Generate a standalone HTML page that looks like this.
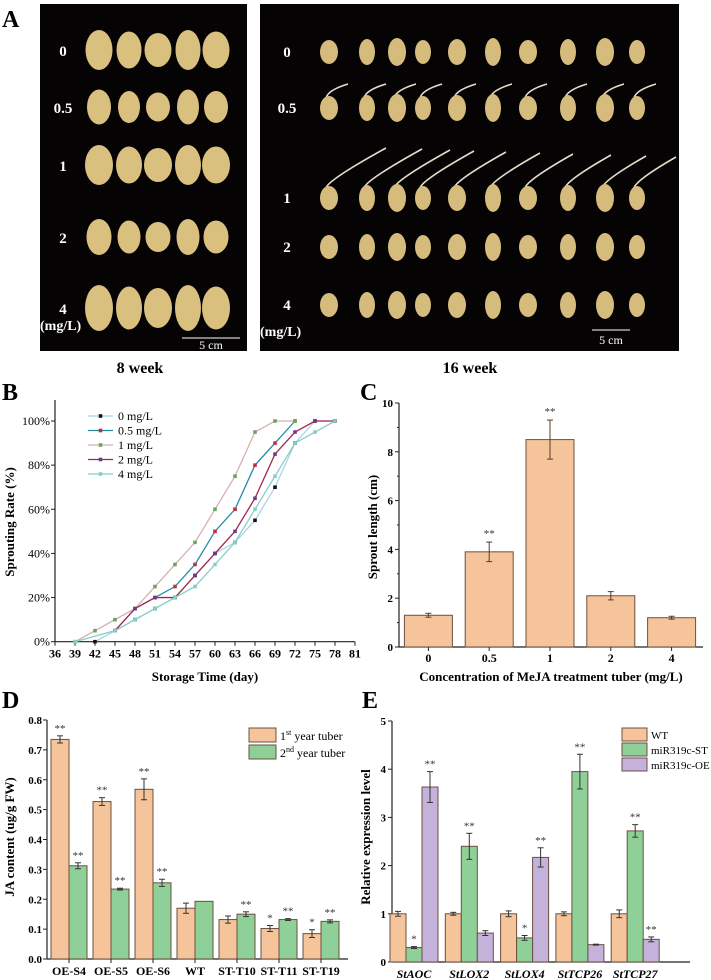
<!DOCTYPE html>
<html><head><meta charset="utf-8"><style>
html,body{margin:0;padding:0;background:#fff;}
svg{display:block;font-family:"Liberation Serif",serif;}
</style></head><body>
<svg id="fig" width="711" height="980" viewBox="0 0 711 980" xmlns="http://www.w3.org/2000/svg">
<g id="pa">
<text x="2" y="27" font-size="24" font-weight="bold">A</text>
<rect x="40" y="4" width="207" height="347" fill="#050303"/>
<rect x="260" y="4" width="419" height="347" fill="#050303"/>
<text x="140" y="373" font-size="16" font-weight="bold" text-anchor="middle">8 week</text>
<text x="470" y="373" font-size="16" font-weight="bold" text-anchor="middle">16 week</text>
</g>
<g id="pb"></g>
<g id="pc"></g>
<g id="pd"></g>
<g id="pe"></g>
</svg>
<script>
// ---------- Data ----------
const bDays=[36,39,42,45,48,51,54,57,60,63,66,69,72,75,78,81];
const bSeriesNames=["0 mg/L","0.5 mg/L","1 mg/L","2 mg/L","4 mg/L"];
const b0x=[42,45,48,51,54,57,60,63,66,69,72,75,78];
const b0y=[0,5,10,15,20,30,40,45,55,70,90,100,100];
const b05x=[45,48,51,54,57,60,63,66,69,72];
const b05y=[5,15,20,25,35,50,60,80,90,100];
const b1x=[39,42,45,48,51,54,57,60,63,66,69,72];
const b1y=[0,5,10,15,25,35,45,60,75,95,100,100];
const b2x=[45,48,51,54,57,60,63,66,69,72,75,78];
const b2y=[5,15,20,20,30,40,50,65,85,95,100,100];
const b4x=[39,45,48,51,54,57,60,63,66,69,72,75,78];
const b4y=[0,5,10,15,20,25,35,45,60,75,90,95,100];
const bYTicks=[0,20,40,60,80,100];

const cCats=["0","0.5","1","2","4"];
const cVals=[1.3,3.9,8.5,2.1,1.2];
const cErr=[0.08,0.4,0.8,0.17,0.06];
const cSig=["","**","**","",""];
const cYTicks=[0,2,4,6,8,10];

const dCats=["OE-S4","OE-S5","OE-S6","WT","ST-T10","ST-T11","ST-T19"];
const d1Vals=[0.735,0.527,0.568,0.17,0.132,0.102,0.085];
const d1Err=[0.012,0.013,0.035,0.017,0.012,0.01,0.013];
const d1Sig=["**","**","**","","","*","*"];
const d2Vals=[0.312,0.234,0.255,0.193,0.15,0.132,0.126];
const d2Err=[0.01,0.003,0.012,0,0.008,0.003,0.005];
const d2Sig=["**","**","**","","**","**","**"];
const dYTicks=[0,0.1,0.2,0.3,0.4,0.5,0.6,0.7,0.8];

const eCats=["StAOC","StLOX2","StLOX4","StTCP26","StTCP27"];
const eWT=[1,1,1,1,1];
const eWTErr=[0.05,0.03,0.06,0.04,0.08];
const eST=[0.3,2.4,0.5,3.95,2.72];
const eSTErr=[0.02,0.27,0.05,0.36,0.13];
const eSTSig=["*","**","*","**","**"];
const eOE=[3.63,0.6,2.17,0.36,0.47];
const eOEErr=[0.32,0.05,0.2,0.01,0.05];
const eOESig=["**","","**","","**"];
const eYTicks=[0,1,2,3,4,5];

const NS="http://www.w3.org/2000/svg";
function mk(parent,tag,attrs,text){const e=document.createElementNS(NS,tag);for(const k in attrs)e.setAttribute(k,attrs[k]);if(text!==undefined)e.textContent=text;parent.appendChild(e);return e;}
const OR="#f6c49a",GR="#8fd099",PU="#c4b2da",ST="#6b5040";

// ---------- Panel A potatoes ----------
(function(){
const g=document.getElementById('pa');
const lRows=[50,107,165,237,308],lLab=["0","0.5","1","2","4"],lX=[99,129,158,188,216];
const lSz=[[27,40],[24,35],[28,40],[25,36],[28,46]];
lRows.forEach((y,i)=>{
 const t=mk(g,'text',{x:63,y:y+6,'font-size':15,'font-weight':'bold',fill:'#fff','text-anchor':'middle'},lLab[i]);
 
 
 lX.forEach((x,j)=>{const w=lSz[i][0]-(j%2)*2,h=lSz[i][1]-(j%3)*3;
  const p=mk(g,'ellipse',{cx:x,cy:y,rx:w/2,ry:h/2,fill:'#d9c07e'});
  
  });
});
const rRows=[52,108,198,247,305],rX=[329,367,397,423,457,493,528,568,605,637];
rRows.forEach((y,i)=>{
 const t=mk(g,'text',{x:287,y:y+5,'font-size':15,'font-weight':'bold',fill:'#fff','text-anchor':'middle'},lLab[i]);
 
 
 rX.forEach((x,j)=>{
  if(i===1) mk(g,'path',{d:`M${x-3} ${y-10} q2 -8 ${22} -14`,stroke:'#e6dccb','stroke-width':1.6,fill:'none'});
  if(i===2) mk(g,'path',{d:`M${x-3} ${y-10} q2 -8 ${60-j*2} -${40-j}`,stroke:'#e6dccb','stroke-width':1.6,fill:'none'});
  const p=mk(g,'ellipse',{cx:x,cy:y,rx:9-(j%2),ry:12+(j%3),fill:'#d5bb7c'});
  
  
 });
});
[[40,330,'start'],[260,336,'start']].forEach(a=>{const t=mk(g,'text',{x:a[0],y:a[1],'font-size':14,'font-weight':'bold',fill:'#fff'},'(mg/L)');
 
 });
mk(g,'line',{x1:182,x2:240,y1:338,y2:338,stroke:'#fff','stroke-width':1});
mk(g,'text',{x:211,y:349,'font-size':12,fill:'#fff','text-anchor':'middle'},'5 cm');
mk(g,'line',{x1:592,x2:630,y1:330,y2:330,stroke:'#fff','stroke-width':1});
mk(g,'text',{x:611,y:344,'font-size':12,fill:'#fff','text-anchor':'middle'},'5 cm');
})();

// ---------- Panel B ----------
(function(){
const g=document.getElementById('pb');
const X0=55,X1=355,Y0=641.7,Y100=421;
const sx=d=>X0+(d-36)/(81-36)*(X1-X0), sy=v=>Y0-(v/100)*(Y0-Y100);
const L=mk(g,'text',{x:2,y:400,'font-size':24,'font-weight':'bold'},'B');


mk(g,'line',{x1:X0,y1:400,x2:X0,y2:Y0,stroke:'#222','stroke-width':1.2});
mk(g,'line',{x1:X0,y1:Y0,x2:X1,y2:Y0,stroke:'#222','stroke-width':1.2});
bYTicks.forEach(v=>{mk(g,'line',{x1:X0-4,x2:X0,y1:sy(v),y2:sy(v),stroke:'#222'});
 const t=mk(g,'text',{x:X0-5,y:sy(v)+4,'font-size':12,'text-anchor':'end'},v+'%');
 
 });
bDays.forEach(d=>{mk(g,'line',{x1:sx(d),x2:sx(d),y1:Y0,y2:Y0+4,stroke:'#222'});
 const t=mk(g,'text',{x:sx(d),y:Y0+16,'font-size':12,'font-weight':'bold','text-anchor':'middle'},d);
 
 });
const xt=mk(g,'text',{x:205,y:681,'font-size':13,'font-weight':'bold','text-anchor':'middle'},'Storage Time (day)');


const yt=mk(g,'text',{x:0,y:0,'font-size':13,'font-weight':'bold','text-anchor':'middle',transform:'translate(14,522) rotate(-90)'},'Sprouting Rate (%)');


const series=[[b0x,b0y,'#a8d4e6','#111','s'],[b05x,b05y,'#2a8aa6','#c0303a','c'],[b1x,b1y,'#d6b0b0','#6aa65a','t'],[b2x,b2y,'#a0284e','#6b3a8a','v'],[b4x,b4y,'#86cfc6','#86cfc6','d']];
series.forEach((s,i)=>{
 const pts=s[0].map((d,k)=>sx(d)+','+sy(s[1][k])).join(' ');
 const pl=mk(g,'polyline',{points:pts,fill:'none',stroke:s[2],'stroke-width':1.3});
 
 
 s[0].forEach((d,k)=>{const m=mk(g,'rect',{x:sx(d)-1.8,y:sy(s[1][k])-1.8,width:3.6,height:3.6,fill:s[3]});
  
  });
 const ly=416+i*14.5;
 mk(g,'line',{x1:88,x2:113,y1:ly,y2:ly,stroke:s[2],'stroke-width':1.3});
 mk(g,'rect',{x:98.7,y:ly-1.8,width:3.6,height:3.6,fill:s[3]});
 const lt=mk(g,'text',{x:118,y:ly+4,'font-size':12},bSeriesNames[i]);
 
 
});
})();

// ---------- bar helper ----------
function bar(g,x,w,yTop,yBase,fill,name){const r=mk(g,'rect',{x:x,y:yTop,width:w,height:yBase-yTop,fill:fill,stroke:ST,'stroke-width':1});
 
 return r;}
function err(g,cx,yHi,yLo,col){mk(g,'line',{x1:cx,x2:cx,y1:yHi,y2:yLo,stroke:col||'#333'});
 mk(g,'line',{x1:cx-3,x2:cx+3,y1:yHi,y2:yHi,stroke:col||'#333'});mk(g,'line',{x1:cx-3,x2:cx+3,y1:yLo,y2:yLo,stroke:col||'#333'});}
function sig(g,cx,y,s){if(s)mk(g,'text',{x:cx,y:y,'font-size':11,'text-anchor':'middle',fill:'#333'},s);}

// ---------- Panel C ----------
(function(){
const g=document.getElementById('pc');
const X0=399,X1=703,Y0=647,Y10=403;
const sy=v=>Y0-v/10*(Y0-Y10);
const L=mk(g,'text',{x:360,y:400,'font-size':24,'font-weight':'bold'},'C');


mk(g,'line',{x1:X0,y1:Y10,x2:X0,y2:Y0,stroke:'#222','stroke-width':1.2});
mk(g,'line',{x1:X0,y1:Y0,x2:X1,y2:Y0,stroke:'#222','stroke-width':1.2});
cYTicks.forEach(v=>{mk(g,'line',{x1:X0-4,x2:X0,y1:sy(v),y2:sy(v),stroke:'#222'});
 if(v<10)mk(g,'line',{x1:X0-2,x2:X0,y1:sy(v+1),y2:sy(v+1),stroke:'#222'});
 const t=mk(g,'text',{x:X0-6,y:sy(v)+4,'font-size':11,'font-weight':'bold','text-anchor':'end'},v);
 
 });
const step=(X1-X0)/cCats.length;
cCats.forEach((c,i)=>{const cx=X0+step*(i+0.5)-1;
 bar(g,cx-24,48,sy(cVals[i]),Y0,OR,'bar-'+c);
 err(g,cx,sy(cVals[i]+cErr[i]),sy(cVals[i]-cErr[i]),'#5a3a2a');
 sig(g,cx,sy(cVals[i]+cErr[i])-5,cSig[i]);
 mk(g,'line',{x1:cx,x2:cx,y1:Y0,y2:Y0+4,stroke:'#222'});
 const t=mk(g,'text',{x:cx,y:Y0+15,'font-size':12,'font-weight':'bold','text-anchor':'middle'},c);
 
 });
const xt=mk(g,'text',{x:551,y:681,'font-size':13,'font-weight':'bold','text-anchor':'middle'},'Concentration of MeJA treatment tuber (mg/L)');


const yt=mk(g,'text',{x:0,y:0,'font-size':13,'font-weight':'bold','text-anchor':'middle',transform:'translate(377,527) rotate(-90)'},'Sprout length (cm)');


})();

// ---------- Panel D ----------
(function(){
const g=document.getElementById('pd');
const X0=47,X1=348,Y0=959,Y8=720;
const sy=v=>Y0-v/0.8*(Y0-Y8);
const L=mk(g,'text',{x:2,y:708,'font-size':24,'font-weight':'bold'},'D');


mk(g,'line',{x1:X0,y1:Y8,x2:X0,y2:Y0,stroke:'#222','stroke-width':1.2});
mk(g,'line',{x1:X0,y1:Y0,x2:X1,y2:Y0,stroke:'#222','stroke-width':1.2});
dYTicks.forEach(v=>{mk(g,'line',{x1:X0-4,x2:X0,y1:sy(v),y2:sy(v),stroke:'#222'});
 const t=mk(g,'text',{x:X0-5,y:sy(v)+4,'font-size':11,'font-weight':'bold','text-anchor':'end'},v.toFixed(1));
 
 });
dCats.forEach((c,i)=>{const cx=69+i*42;
 bar(g,cx-18,18,sy(d1Vals[i]),Y0,OR,'bar-1st-'+c);
 bar(g,cx,18,sy(d2Vals[i]),Y0,GR,'bar-2nd-'+c);
 err(g,cx-9,sy(d1Vals[i]+d1Err[i]),sy(d1Vals[i]-d1Err[i]));
 if(d2Err[i]>0)err(g,cx+9,sy(d2Vals[i]+d2Err[i]),sy(d2Vals[i]-d2Err[i]));
 sig(g,cx-9,sy(d1Vals[i]+d1Err[i])-4,d1Sig[i]);
 sig(g,cx+9,sy(d2Vals[i]+d2Err[i])-4,d2Sig[i]);
 mk(g,'line',{x1:cx,x2:cx,y1:Y0,y2:Y0+4,stroke:'#222'});
 const t=mk(g,'text',{x:cx,y:Y0+16,'font-size':12,'font-weight':'bold','text-anchor':'middle'},c);
 
 });
const lg=mk(g,'g',{});


mk(lg,'rect',{x:249,y:728,width:27,height:14,fill:OR,stroke:ST});
mk(lg,'rect',{x:249,y:745,width:27,height:14,fill:GR,stroke:ST});
const t1=mk(lg,'text',{x:280,y:740,'font-size':12});t1.innerHTML='1<tspan font-size="8" dy="-5">st</tspan><tspan dy="5"> year tuber</tspan>';
const t2=mk(lg,'text',{x:280,y:757,'font-size':12});t2.innerHTML='2<tspan font-size="8" dy="-5">nd</tspan><tspan dy="5"> year tuber</tspan>';
const yt=mk(g,'text',{x:0,y:0,'font-size':13,'font-weight':'bold','text-anchor':'middle',transform:'translate(14,837) rotate(-90)'},'JA content (ug/g FW)');


})();

// ---------- Panel E ----------
(function(){
const g=document.getElementById('pe');
const X0=392,X1=690,Y0=962,Y5=721;
const sy=v=>Y0-v/5*(Y0-Y5);
const L=mk(g,'text',{x:362,y:708,'font-size':24,'font-weight':'bold'},'E');


mk(g,'line',{x1:X0,y1:Y5,x2:X0,y2:Y0,stroke:'#222','stroke-width':1.2});
mk(g,'line',{x1:X0,y1:Y0,x2:X1,y2:Y0,stroke:'#222','stroke-width':1.2});
eYTicks.forEach(v=>{mk(g,'line',{x1:X0-4,x2:X0,y1:sy(v),y2:sy(v),stroke:'#222'});
 const t=mk(g,'text',{x:X0-6,y:sy(v)+4,'font-size':11,'font-weight':'bold','text-anchor':'end'},v);
 
 });
eCats.forEach((c,i)=>{const cx=414+i*55.3;
 bar(g,cx-24,16,sy(eWT[i]),Y0,OR,'bar-wt-'+c);
 bar(g,cx-8,16,sy(eST[i]),Y0,GR,'bar-st-'+c);
 bar(g,cx+8,16,sy(eOE[i]),Y0,PU,'bar-oe-'+c);
 err(g,cx-16,sy(eWT[i]+eWTErr[i]),sy(eWT[i]-eWTErr[i]));
 err(g,cx,sy(eST[i]+eSTErr[i]),sy(eST[i]-eSTErr[i]));
 err(g,cx+16,sy(eOE[i]+eOEErr[i]),sy(eOE[i]-eOEErr[i]));
 sig(g,cx,sy(eST[i]+eSTErr[i])-4,eSTSig[i]);
 sig(g,cx+16,sy(eOE[i]+eOEErr[i])-4,eOESig[i]);
 const t=mk(g,'text',{x:cx,y:Y0+16,'font-size':12,'font-weight':'bold','font-style':'italic','text-anchor':'middle'},c);
 
 });
const lg=mk(g,'g',{});


[[OR,'WT'],[GR,'miR319c-ST'],[PU,'miR319c-OE']].forEach((a,k)=>{
 mk(lg,'rect',{x:622,y:728+k*15,width:25,height:13,fill:a[0],stroke:ST});
 mk(lg,'text',{x:651,y:739+k*15,'font-size':11},a[1]);});
const yt=mk(g,'text',{x:0,y:0,'font-size':13,'font-weight':'bold','text-anchor':'middle',transform:'translate(370,837) rotate(-90)'},'Relative expression level');


})();
</script>
</body></html>
